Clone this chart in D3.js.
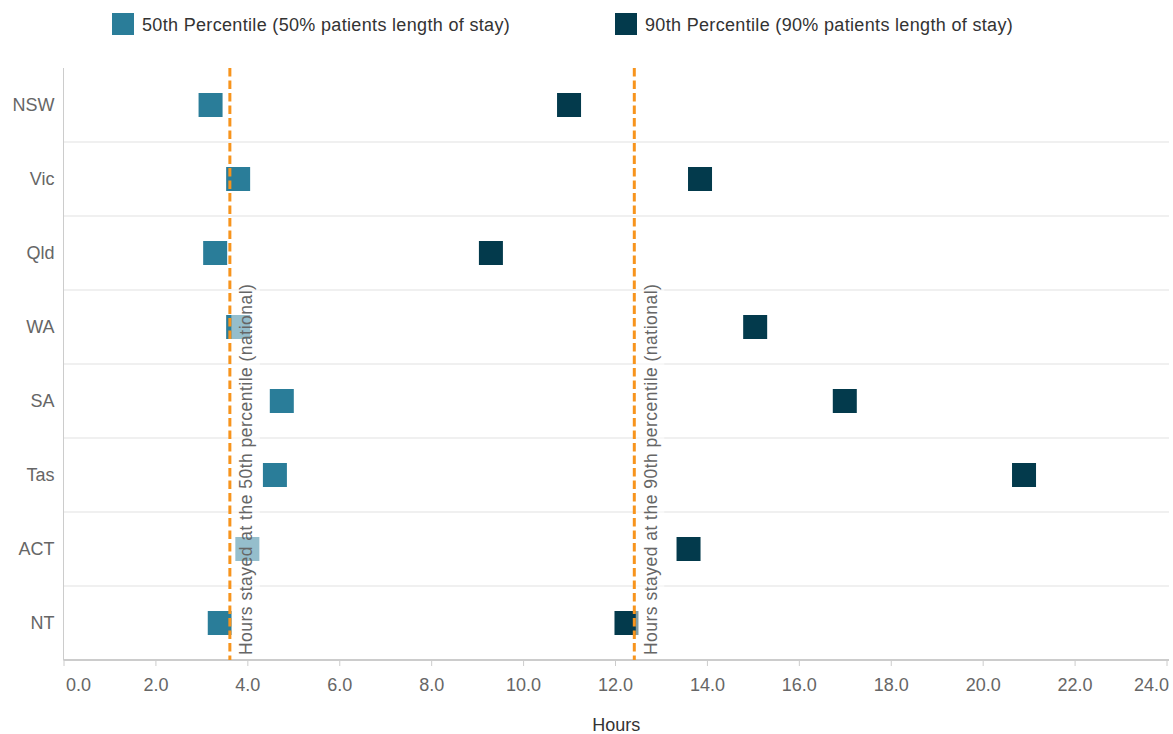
<!DOCTYPE html>
<html>
<head>
<meta charset="utf-8">
<script src="https://cdn.jsdelivr.net/npm/d3@7"></script>
<style>
  html, body { margin: 0; padding: 0; background: #fff; }
  svg { display: block; font-family: "Liberation Sans", Arial, sans-serif; }
</style>
</head>
<body>
<svg id="chart" width="1173" height="734"></svg>
<script>
const categories = ["NSW", "Vic", "Qld", "WA", "SA", "Tas", "ACT", "NT"];
const p50 = [3.2, 3.8, 3.3, 3.8, 4.75, 4.6, 4.0, 3.4];
const p90 = [11.0, 13.85, 9.3, 15.05, 17.0, 20.9, 13.6, 12.25];
const seriesNames = ["50th Percentile (50% patients length of stay)", "90th Percentile (90% patients length of stay)"];
const nationalValues = [3.62, 12.42];
const nationalLabels = ["Hours stayed at the 50th percentile (national)", "Hours stayed at the 90th percentile (national)"];
const xTicks = [0, 2, 4, 6, 8, 10, 12, 14, 16, 18, 20, 22, 24];
const xTitle = "Hours";

(function () {
const colors = ["#2a7d99", "#033a4c"];
const svg = d3.select("#chart");
const pLeft = 63.5, pRight = 1166.5, pTop = 68, pBottom = 660, pEnd = 1169;

const x = d3.scaleLinear().domain([0, 24]).range([pLeft, pRight]);
const y = d3.scaleBand().domain(categories).range([pTop, pBottom]).padding(0);
const fontFam = '"Liberation Sans", Arial, sans-serif';

// gridlines between categories
const grid = svg.append("g");
categories.slice(1).forEach(c => {
  grid.append("line")
    .attr("x1", pLeft).attr("x2", pEnd)
    .attr("y1", y(c)).attr("y2", y(c))
    .attr("stroke", "#f0f0f0").attr("stroke-width", 2);
});

// x axis
const xAxis = svg.append("g")
  .attr("transform", `translate(0,${pBottom})`)
  .call(d3.axisBottom(x).tickValues(xTicks).tickFormat(d3.format(".1f")).tickSize(6).tickPadding(12));
xAxis.select(".domain").remove();
xAxis.selectAll(".tick line").attr("stroke", "#ccc");
xAxis.selectAll(".tick text")
  .attr("fill", "#666").style("font-size", "18px").style("font-family", fontFam);
xAxis.selectAll(".tick").filter(d => d === 0).select("text").attr("text-anchor", "start").attr("dx", 2);
xAxis.selectAll(".tick").filter(d => d === 24).select("text").attr("text-anchor", "end").attr("dx", 2);
svg.append("line").attr("x1", pLeft).attr("x2", pEnd).attr("y1", pBottom).attr("y2", pBottom)
  .attr("stroke", "#ccc").attr("stroke-width", 2);

// y axis
const yAxis = svg.append("g")
  .attr("transform", `translate(${pLeft},0)`)
  .call(d3.axisLeft(y).tickSize(0).tickPadding(9));
yAxis.select(".domain").remove();
yAxis.selectAll(".tick text")
  .attr("fill", "#666").style("font-size", "18px").style("font-family", fontFam);
svg.append("line").attr("x1", pLeft).attr("x2", pLeft).attr("y1", pTop).attr("y2", pBottom)
  .attr("stroke", "#ccc").attr("stroke-width", 1);

// markers
const m = 24;
[p50, p90].forEach((vals, si) => {
  svg.append("g").selectAll("rect")
    .data(vals)
    .join("rect")
    .attr("x", d => x(d) - m / 2)
    .attr("y", (d, i) => y(categories[i]) + y.bandwidth() / 2 - m / 2)
    .attr("width", m).attr("height", m)
    .attr("fill", colors[si]);
});

// national lines + labels
nationalValues.forEach((v, i) => {
  const lx = x(v);
  svg.append("rect")
    .attr("x", lx + 1.5).attr("y", 279)
    .attr("width", 28.5).attr("height", 380)
    .attr("fill", "#fff").attr("fill-opacity", 0.5);
  svg.append("line")
    .attr("x1", lx).attr("x2", lx).attr("y1", pTop).attr("y2", pBottom)
    .attr("stroke", "#f7941d").attr("stroke-width", 3)
    .attr("stroke-dasharray", "8.5,4");
  svg.append("text")
    .attr("transform", `translate(${lx + 22.5},655) rotate(-90)`)
    .attr("fill", "#666")
    .style("font-size", "17.5px")
    .style("letter-spacing", "0.48px")
    .text(nationalLabels[i]);
});

// legend
const legendX = [112, 615];
seriesNames.forEach((n, i) => {
  svg.append("rect").attr("x", legendX[i]).attr("y", 13).attr("width", 22).attr("height", 22).attr("fill", colors[i]);
  svg.append("text").attr("x", legendX[i] + 30).attr("y", 31)
    .attr("fill", "#333").style("font-size", "18px")
    .style("letter-spacing", "0.33px").text(n);
});

// x title
svg.append("text").attr("x", (pLeft + pEnd) / 2).attr("y", 731)
  .attr("text-anchor", "middle").attr("fill", "#333").style("font-size", "18px").text(xTitle);
})();
</script>
</body>
</html>
